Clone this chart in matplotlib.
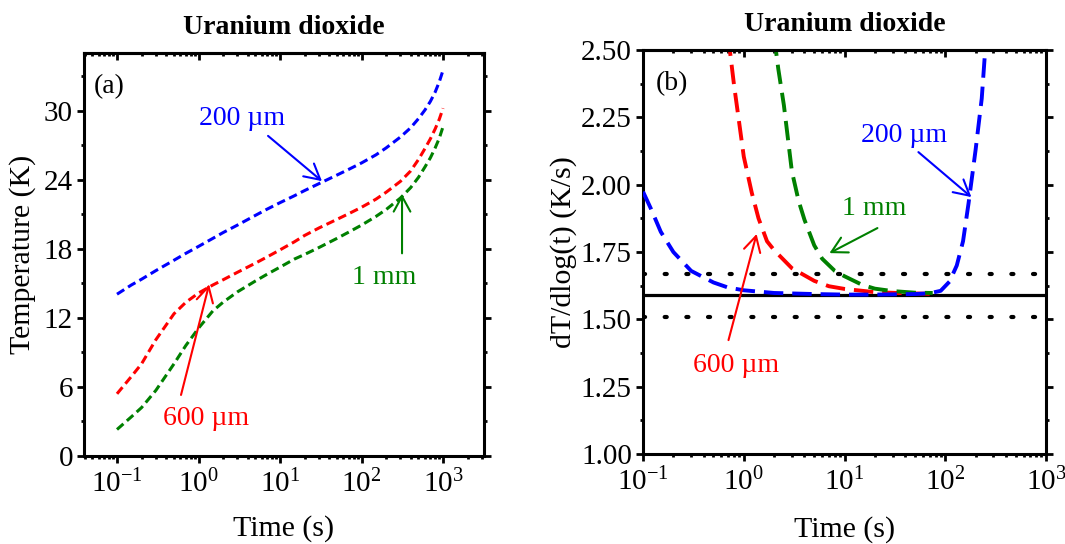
import matplotlib
matplotlib.use("Agg")
import matplotlib.pyplot as plt
from matplotlib.ticker import LogLocator, MultipleLocator, FormatStrFormatter, NullFormatter

plt.rcParams['font.family'] = ['Liberation Serif', 'DejaVu Serif']
plt.rcParams['mathtext.fontset'] = 'custom'
plt.rcParams['mathtext.rm'] = 'Liberation Serif'
plt.rcParams['mathtext.it'] = 'Liberation Serif:italic'
plt.rcParams['mathtext.bf'] = 'Liberation Serif:bold'
plt.rcParams['axes.unicode_minus'] = False

# ---- panel (a): temperature rise vs time ----
time_a = [0.1, 0.15, 0.2, 0.3, 0.5, 0.7, 1, 1.5, 2, 3, 5, 7, 10, 15, 20, 30, 50, 70,
          100, 150, 200, 300, 400, 500, 600, 700, 800, 900, 1000]
temp_200um = [14.05, 14.85, 15.35, 16.1, 17.0, 17.6, 18.2, 18.9, 19.4, 20.05, 20.9, 21.45,
              22.0, 22.6, 23.05, 23.65, 24.4, 24.9, 25.45, 26.15, 26.75, 27.7, 28.5, 29.3,
              30.05, 30.8, 31.6, 32.5, 33.5]
temp_600um = [5.4, 6.9, 8.0, 10.1, 12.35, 13.35, 14.15, 14.85, 15.3, 15.95, 16.75, 17.3,
              17.9, 18.6, 19.15, 19.8, 20.55, 21.05, 21.6, 22.3, 22.9, 23.85, 24.75, 25.75,
              26.7, 27.55, 28.4, 29.25, 30.2]
temp_1mm = [2.3, 3.4, 4.2, 5.7, 8.0, 9.6, 11.1, 12.6, 13.35, 14.25, 15.2, 15.8,
            16.4, 17.1, 17.5, 18.1, 18.9, 19.45, 20.05, 20.8, 21.4, 22.4, 23.3, 24.2,
            25.1, 25.9, 26.75, 27.6, 28.6]

# ---- panel (b): dT/dlog(t) vs time ----
time_b_200um = [0.1, 0.12, 0.15, 0.2, 0.3, 0.5, 0.7, 1, 2, 5, 10, 20, 50, 70, 90,
                110, 130, 150, 170, 200, 230, 260]
rate_200um = [1.974, 1.91, 1.825, 1.75, 1.68, 1.637, 1.618, 1.608, 1.598, 1.594, 1.592,
              1.592, 1.594, 1.597, 1.606, 1.64, 1.70, 1.79, 1.93, 2.13, 2.32, 2.60]
time_b_600um = [0.7, 0.8, 0.9, 1.0, 1.2, 1.4, 1.7, 2, 3, 5, 7, 10, 20, 40, 70]
rate_600um = [2.55, 2.37, 2.23, 2.104, 1.97, 1.875, 1.79, 1.757, 1.69, 1.643, 1.623,
              1.613, 1.601, 1.597, 1.595]
time_b_1mm = [2.0, 2.2, 2.5, 3, 3.5, 4, 5, 6, 8, 10, 15, 20, 30, 50, 75]
rate_1mm = [2.55, 2.43, 2.295, 2.05, 1.94, 1.87, 1.775, 1.725, 1.68, 1.66, 1.628,
            1.614, 1.605, 1.599, 1.598]

rate_mean = 1.59
rate_band = [1.51, 1.67]

BLUE, RED, GREEN = '#0000FF', '#FF0000', '#008000'
TICK_FS, LABEL_FS, TITLE_FS, NOTE_FS = 21, 21.5, 20, 20
SPINE_W = 2.2

fig = plt.figure(figsize=(10.65, 5.44), dpi=100)
ax_a = fig.add_axes([0.0789, 0.1618, 0.3756, 0.7408])
ax_b = fig.add_axes([0.6038, 0.1654, 0.3784, 0.7426])


def style_axes(ax):
    for sp in ax.spines.values():
        sp.set_linewidth(SPINE_W)
    ax.set_xscale('log')
    ax.xaxis.set_major_locator(LogLocator(base=10, numticks=10))
    ax.xaxis.set_minor_locator(LogLocator(base=10, subs=range(2, 10), numticks=20))
    ax.xaxis.set_minor_formatter(NullFormatter())
    ax.tick_params(which='major', direction='out', length=5, width=2,
                   labelsize=TICK_FS, left=True, right=True, bottom=True, top=False)
    ax.tick_params(which='minor', direction='out', length=2.5, width=2,
                   left=True, right=True, bottom=True, top=False)
    ax.tick_params(axis='x', which='major', pad=5)
    ax.tick_params(axis='y', which='major', pad=3)
    top = ax.secondary_xaxis('top')
    top.spines['top'].set_linewidth(SPINE_W)
    top.xaxis.set_major_locator(LogLocator(base=10, numticks=10))
    top.xaxis.set_minor_locator(LogLocator(base=10, subs=range(2, 10), numticks=20))
    top.tick_params(which='major', direction='in', length=5, width=2, labeltop=False)
    top.tick_params(which='minor', direction='in', length=2.5, width=2, labeltop=False)
    top.xaxis.set_minor_formatter(NullFormatter())


# ---------------- panel (a) ----------------
style_axes(ax_a)
dash_a = (0, (2.8, 1.5))
ax_a.plot(time_a, temp_200um, color=BLUE, lw=2.2, linestyle=dash_a)
ax_a.plot(time_a, temp_600um, color=RED, lw=2.2, linestyle=dash_a)
ax_a.plot(time_a, temp_1mm, color=GREEN, lw=2.2, linestyle=dash_a)
ax_a.set_xlim(0.0394, 3185)
ax_a.set_ylim(0, 35)
ax_a.yaxis.set_major_locator(MultipleLocator(6))
ax_a.yaxis.set_minor_locator(MultipleLocator(3))
ax_a.set_xlabel('Time (s)', fontsize=LABEL_FS, va='center')
ax_a.xaxis.set_label_coords(0.5, -0.179)
ax_a.set_ylabel('Temperature (K)', fontsize=LABEL_FS, va='center')
ax_a.yaxis.set_label_coords(-0.1525, 0.5)
ax_a.text(0.5, 1.062, 'Uranium dioxide', transform=ax_a.transAxes, ha='center',
          va='center', fontsize=TITLE_FS, fontweight='bold')
ax_a.text(0.0625, 0.916, '(a)', transform=ax_a.transAxes, ha='center', va='center',
          fontsize=NOTE_FS)

arrow_kw = dict(arrowstyle='->,head_length=0.55,head_width=0.3', lw=1.5,
                shrinkA=0, shrinkB=0, mutation_scale=20)
ax_a.text(3.42, 29.3, '200 \u00b5m', color=BLUE, fontsize=NOTE_FS, ha='center', va='center')
ax_a.annotate('', xy=(32.7, 23.87), xytext=(7.13, 27.8), arrowprops=dict(color=BLUE, **arrow_kw))
ax_a.text(1.24, 3.22, '600 \u00b5m', color=RED, fontsize=NOTE_FS, ha='center', va='center')
ax_a.annotate('', xy=(1.35, 14.9), xytext=(0.61, 5.3), arrowprops=dict(color=RED, **arrow_kw))
ax_a.text(189, 15.5, '1 mm', color=GREEN, fontsize=NOTE_FS, ha='center', va='center')
ax_a.annotate('', xy=(314, 22.74), xytext=(314, 17.6), arrowprops=dict(color=GREEN, **arrow_kw))

# ---------------- panel (b) ----------------
style_axes(ax_b)
ax_b.axhline(rate_mean, color='black', lw=2.3, zorder=1)
for level in rate_band:
    ax_b.axhline(level, color='black', lw=3.0, linestyle=(0, (0.5, 4.7)),
                 dash_capstyle='round', zorder=1)
dash_b = (0, (5.0, 2.3))
ax_b.plot(time_b_600um, rate_600um, color=RED, lw=2.8, linestyle=dash_b, zorder=2)
ax_b.plot(time_b_1mm, rate_1mm, color=GREEN, lw=2.8, linestyle=dash_b, zorder=2)
ax_b.plot(time_b_200um, rate_200um, color=BLUE, lw=2.8, linestyle=dash_b, zorder=3)
ax_b.set_xlim(0.1, 1000)
ax_b.set_ylim(1.0, 2.5)
ax_b.yaxis.set_major_locator(MultipleLocator(0.25))
ax_b.yaxis.set_minor_locator(MultipleLocator(0.125))
ax_b.yaxis.set_major_formatter(FormatStrFormatter('%.2f'))
ax_b.set_xlabel('Time (s)', fontsize=LABEL_FS, va='center')
ax_b.xaxis.set_label_coords(0.5, -0.186)
ax_b.set_ylabel('dT/dlog(t) (K/s)', fontsize=LABEL_FS, va='center')
ax_b.yaxis.set_label_coords(-0.1985, 0.5)
ax_b.text(0.5, 1.064, 'Uranium dioxide', transform=ax_b.transAxes, ha='center',
          va='center', fontsize=TITLE_FS, fontweight='bold')
ax_b.text(0.072, 0.916, '(b)', transform=ax_b.transAxes, ha='center', va='center',
          fontsize=NOTE_FS)

ax_b.text(39.3, 2.181, '200 \u00b5m', color=BLUE, fontsize=NOTE_FS, ha='center', va='center')
ax_b.annotate('', xy=(181.5, 1.954), xytext=(54.1, 2.121), arrowprops=dict(color=BLUE, **arrow_kw))
ax_b.text(19.8, 1.913, '1 mm', color=GREEN, fontsize=NOTE_FS, ha='center', va='center')
ax_b.annotate('', xy=(7.08, 1.746), xytext=(21.2, 1.839), arrowprops=dict(color=GREEN, **arrow_kw))
ax_b.text(0.847, 1.327, '600 \u00b5m', color=RED, fontsize=NOTE_FS, ha='center', va='center')
ax_b.annotate('', xy=(1.34, 1.817), xytext=(0.705, 1.423), arrowprops=dict(color=RED, **arrow_kw))

fig.savefig('out.png', dpi=100)
